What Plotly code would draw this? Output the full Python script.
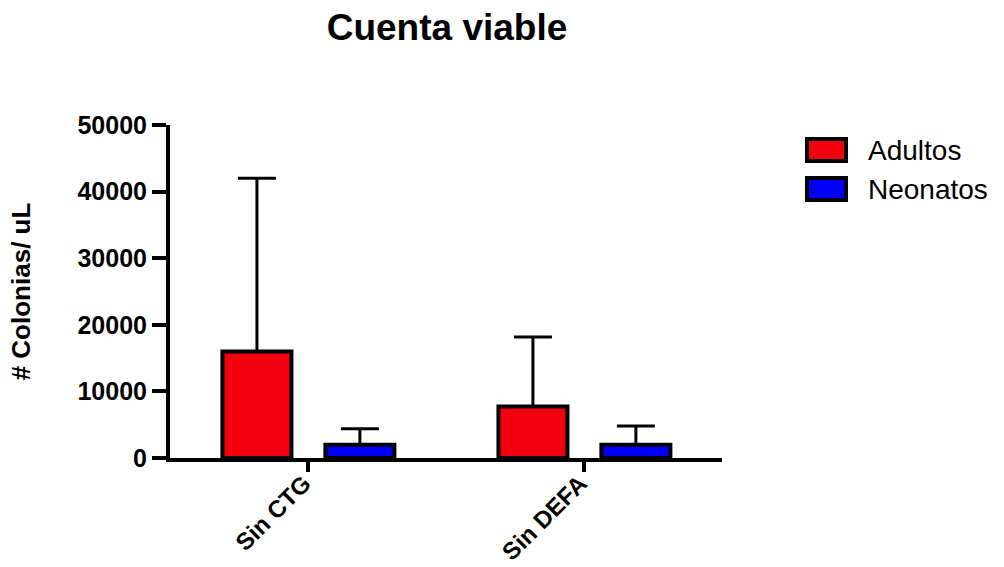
import plotly.graph_objects as go

categories = ["Sin CTG", "Sin DEFA"]
adultos_mean = [16000, 7750]
adultos_sd = [26000, 10400]
neonatos_mean = [2000, 2000]
neonatos_sd = [2400, 2800]
y_ticks = [0, 10000, 20000, 30000, 40000, 50000]
y_ticktext = ["0", "10000", "20000", "30000", "40000", "50000"]

FONT = "Liberation Sans, Arial, sans-serif"
RED = "rgb(243,0,14)"
BLUE = "rgb(0,0,250)"

fig = go.Figure()
fig.add_trace(go.Bar(
    x=categories, y=adultos_mean, name="Adultos",
    marker=dict(color=RED, line=dict(color="black", width=4)),
    width=0.25, offset=-0.31,
    error_y=dict(type="data", array=adultos_sd, arrayminus=[0] * len(adultos_sd),
                 symmetric=False, color="black", thickness=3, width=19),
    showlegend=False,
))
fig.add_trace(go.Bar(
    x=categories, y=neonatos_mean, name="Neonatos",
    marker=dict(color=BLUE, line=dict(color="black", width=4)),
    width=0.25, offset=0.063,
    error_y=dict(type="data", array=neonatos_sd, arrayminus=[0] * len(neonatos_sd),
                 symmetric=False, color="black", thickness=3, width=19),
    showlegend=False,
))

# Plot area in pixels: x 170..722, y 125..458
L, R, T, B = 170, 1004 - 722, 125, 567 - 458
PW, PH = 1004 - L - R, 567 - T - B

def px2paper_x(px):
    return (px - L) / PW

def px2paper_y(py):
    return (567 - B - py) / PH

# custom legend
legend_items = [("Adultos", RED, 150), ("Neonatos", BLUE, 189)]
for name, col, cy in legend_items:
    fig.add_shape(type="rect", xref="paper", yref="paper",
                  x0=px2paper_x(807), x1=px2paper_x(846),
                  y0=px2paper_y(cy - 11), y1=px2paper_y(cy + 11),
                  fillcolor=col, line=dict(color="black", width=4))
    fig.add_annotation(xref="paper", yref="paper", x=px2paper_x(866), y=px2paper_y(cy),
                       xanchor="left", yanchor="middle", text=name, showarrow=False,
                       font=dict(family=FONT, size=28, color="black"))

fig.update_layout(
    width=1004, height=567,
    margin=dict(l=L, r=R, t=T, b=B, autoexpand=False),
    paper_bgcolor="white", plot_bgcolor="white",
    title=dict(text="Cuenta viable", x=447 / 1004, xref="container", xanchor="center",
               y=1 - 27 / 567, yref="container", yanchor="middle",
               font=dict(family=FONT, size=37, color="black", weight="bold")),
    font=dict(family=FONT, color="black"),
)
fig.update_xaxes(
    range=[-0.5, 1.5], showline=True, linecolor="black", linewidth=4,
    ticks="outside", ticklen=10, tickwidth=4, tickcolor="black",
    tickangle=-45, showgrid=False, zeroline=False,
    ticklabelstandoff=-12, ticklabelshift=-4,
    tickfont=dict(family=FONT, size=24, color="black", weight="bold"),
)
fig.update_yaxes(
    range=[0, 50000], showline=True, linecolor="black", linewidth=4,
    ticks="outside", ticklen=14, tickwidth=4, tickcolor="black",
    tickvals=y_ticks, ticktext=y_ticktext, showgrid=False, zeroline=False,
    tickfont=dict(family=FONT, size=25, color="black", weight="bold"),
    title=dict(text="# Colonias/ uL", standoff=40,
               font=dict(family=FONT, size=26, color="black", weight="bold")),
)

fig.write_html("out.html")
